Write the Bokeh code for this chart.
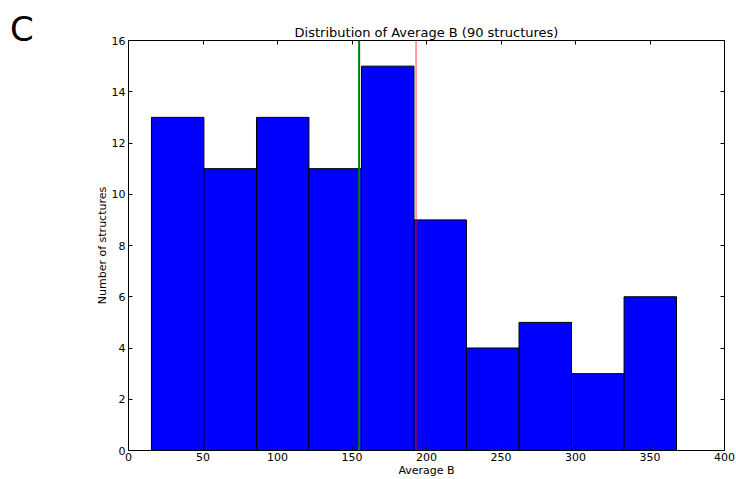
from bokeh.plotting import figure
from bokeh.models import Range1d, FixedTicker, LinearAxis, Span, Div
from bokeh.layouts import row
from bokeh.embed import file_html
from bokeh.resources import INLINE

# Histogram data
bin_edges = [15.4, 50.6, 85.9, 121.1, 156.4, 191.6, 226.8, 262.1, 297.3, 332.6, 367.8]
counts = [13, 11, 13, 11, 15, 9, 4, 5, 3, 6]
green_line_x = 154.8
red_line_x = 193.0
x_ticks = [0, 50, 100, 150, 200, 250, 300, 350, 400]
y_ticks = [0, 2, 4, 6, 8, 10, 12, 14, 16]
panel_letter = "C"
title_text = "Distribution of Average B (90 structures)"

FONT = "DejaVu Sans"

p = figure(width=644, height=479, output_backend="svg", toolbar_location=None,
           x_range=Range1d(0, 400), y_range=Range1d(0, 16),
           min_border_left=35, min_border_right=12, min_border_top=40, min_border_bottom=27,
           title=title_text)
p.title.align = "center"
p.title.text_font = FONT
p.title.text_font_style = "normal"
p.title.text_font_size = "13px"
p.title.text_color = "black"
p.title.standoff = 2

p.background_fill_color = "white"
p.border_fill_color = "white"
p.outline_line_color = "black"
p.outline_line_width = 1
p.grid.visible = False

p.quad(left=bin_edges[:-1], right=bin_edges[1:], bottom=0, top=counts,
       fill_color="#0000ff", line_color="black", line_width=1)

p.add_layout(Span(location=green_line_x, dimension="height", line_color="#008000", line_width=2))
p.add_layout(Span(location=red_line_x, dimension="height", line_color="#ff0000",
                  line_alpha=0.5, line_width=1.5))

def style_axis(ax, ticks, show_labels=True):
    ax.ticker = FixedTicker(ticks=ticks)
    ax.minor_tick_line_color = None
    ax.major_tick_in = 4
    ax.major_tick_out = 0
    ax.major_tick_line_color = "black"
    ax.axis_line_color = "black"
    ax.major_label_text_font = FONT
    ax.major_label_text_color = "black"
    ax.major_label_text_font_size = "11px"
    if show_labels:
        ax.major_label_standoff = 3
    else:
        ax.major_label_overrides = {t: "" for t in ticks}
        ax.major_label_standoff = 0

style_axis(p.xaxis[0], x_ticks)
style_axis(p.yaxis[0], y_ticks)
p.xaxis[0].major_label_standoff = 2
p.xaxis[0].axis_label = "Average B"
p.yaxis[0].axis_label = "Number of structures"
for ax in (p.xaxis[0], p.yaxis[0]):
    ax.axis_label_text_font = FONT
    ax.axis_label_text_font_size = "11px"
    ax.axis_label_text_font_style = "normal"
    ax.axis_label_text_color = "black"
p.xaxis[0].axis_label_standoff = 0
p.yaxis[0].axis_label_standoff = 0

top_ax = LinearAxis()
right_ax = LinearAxis()
style_axis(top_ax, x_ticks, show_labels=False)
style_axis(right_ax, y_ticks, show_labels=False)
p.add_layout(top_ax, "above")
p.add_layout(right_ax, "right")

letter = Div(text=panel_letter, width=92, height=479, margin=0,
             styles={"font-family": FONT, "font-size": "34px", "line-height": "34px",
                     "color": "black", "padding-left": "10px", "padding-top": "12px",
                     "box-sizing": "border-box", "background-color": "white"})

layout = row(letter, p, spacing=0)

open("out.html", "w").write(file_html(layout, INLINE))
